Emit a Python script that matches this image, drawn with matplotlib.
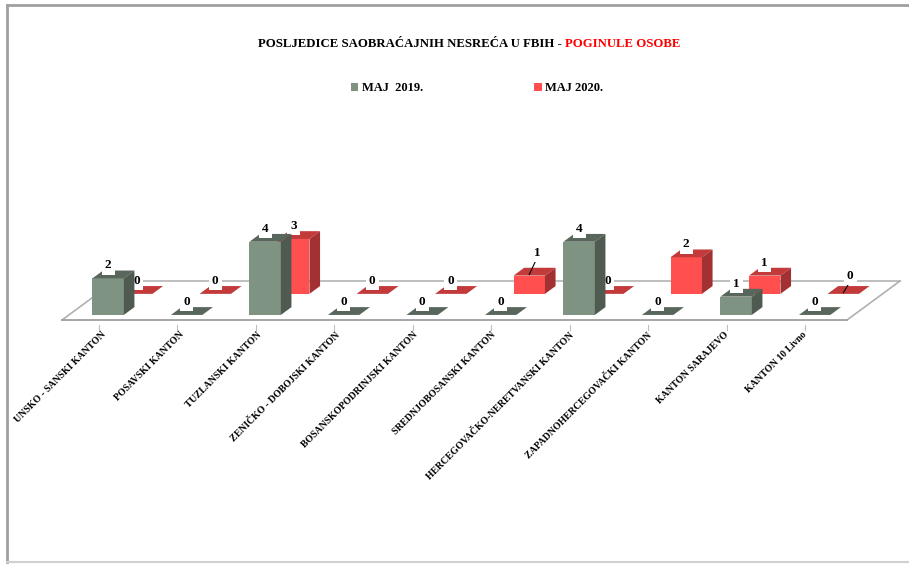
import matplotlib
matplotlib.use("Agg")
import matplotlib.pyplot as plt
from matplotlib.patches import Polygon, Patch
from matplotlib.lines import Line2D

# ---------------- data ----------------
categories = [
    "UNSKO - SANSKI KANTON",
    "POSAVSKI KANTON",
    "TUZLANSKI KANTON",
    "ZENIČKO - DOBOJSKI KANTON",
    "BOSANSKOPODRINJSKI KANTON",
    "SREDNJOBOSANSKI KANTON",
    "HERCEGOVAČKO-NERETVANSKI KANTON",
    "ZAPADNOHERCEGOVAČKI KANTON",
    "KANTON SARAJEVO",
    "KANTON 10 Livno",
]
series_names = ["MAJ  2019.", "MAJ 2020."]
values_2019 = [2, 0, 4, 0, 0, 0, 4, 0, 1, 0]
values_2020 = [0, 0, 3, 0, 0, 1, 0, 2, 1, 0]

title_black = "POSLJEDICE SAOBRAĆAJNIH NESREĆA U FBIH - "
title_red = "POGINULE OSOBE"

# ---------------- geometry (pixel mapping) ----------------
W, H = 909, 564
X0, Y0 = 62.0, 320.0       # pixel of front-left floor corner (value 0)
U = 78.5                   # px per category
V = 18.3                   # px per value unit
DX = 53.0 / U              # depth shift (full depth) in data units
DY = 39.0 / V
BW = 0.40                  # bar width (category units)

fig = plt.figure(figsize=(W / 100, H / 100), dpi=100)
ax = fig.add_axes([0, 0, 1, 1])
ax.set_xlim(-X0 / U, (W - X0) / U)
ax.set_ylim((Y0 - H) / V, Y0 / V)
ax.axis("off")

SERIF = "Liberation Serif"

colors = {
    0: dict(front="#7F9382", side="#4F5B51", top="#58665B"),
    1: dict(front="#FF4F4F", side="#A33131", top="#C23A3A"),
}
depths = {0: (0.13, 0.33), 1: (0.67, 0.87)}

# ---------------- floor ----------------
n = len(categories)
floor = Polygon([(0, 0), (n, 0), (n + DX, DY), (DX, DY)], closed=True,
                facecolor="white", edgecolor="none", zorder=1)
ax.add_patch(floor)
ax.plot([0, n], [0, 0], color="#A6A6A6", lw=1.4, zorder=2)
ax.plot([DX, n + DX], [DY, DY], color="#BFBFBF", lw=1.4, zorder=1.5)
ax.plot([0, DX], [0, DY], color="#B0B0B0", lw=1.2, zorder=1.5)
ax.plot([n, n + DX], [0, DY], color="#B0B0B0", lw=1.2, zorder=1.5)
# small tick marks under the front edge
for i in range(n):
    c = i + 0.5 - 0.03
    ax.plot([c, c], [-5 / V, -10 / V], color="#BFBFBF", lw=0.8, zorder=2)


def draw_series(k, vals):
    d0, d1 = depths[k]
    col = colors[k]
    zb = 3 + 3 * (1 - k)
    centers = [i + 0.5 + d0 * DX for i in range(n)]
    ax.bar(centers, vals, width=BW, bottom=d0 * DY, color=col["front"],
           edgecolor="none", zorder=zb)
    for i, v in enumerate(vals):
        xl = i + 0.5 - BW / 2
        xr = i + 0.5 + BW / 2
        top = [(xl + d0 * DX, v + d0 * DY), (xr + d0 * DX, v + d0 * DY),
               (xr + d1 * DX, v + d1 * DY), (xl + d1 * DX, v + d1 * DY)]
        ax.add_patch(Polygon(top, closed=True, facecolor=col["top"],
                             edgecolor="none", zorder=zb + 0.5))
        if v > 0:
            side = [(xr + d0 * DX, d0 * DY), (xr + d1 * DX, d1 * DY),
                    (xr + d1 * DX, v + d1 * DY), (xr + d0 * DX, v + d0 * DY)]
            ax.add_patch(Polygon(side, closed=True, facecolor=col["side"],
                                 edgecolor="none", zorder=zb + 0.5))


draw_series(1, values_2020)
draw_series(0, values_2019)

# ---------------- data labels ----------------
label_shift = {(1, 5): (8, -10), (1, 9): (7, -5)}   # px offsets with leader lines
for k, vals in ((1, values_2020), (0, values_2019)):
    d0, _ = depths[k]
    zb = 3 + 3 * (1 - k) + 1
    for i, v in enumerate(vals):
        cx = i + 0.5 + d0 * DX
        ty = v + d0 * DY
        lx, ly = cx, ty + 13 / V
        if (k, i) in label_shift:
            ox, oy = label_shift[(k, i)]
            lx, ly = cx + ox / U, ty + (13 - oy) / V
            ax.plot([cx, lx - 1 / U], [ty + 1 / V, ly - 7 / V], color="black",
                    lw=0.8, zorder=zb + 0.1)
        ax.text(lx, ly, str(v), ha="center", va="center", fontsize=9.5,
                fontweight="bold", family=SERIF, zorder=zb + 0.2,
                bbox=dict(boxstyle="square,pad=0.25", facecolor="white",
                          edgecolor="none"))

# ---------------- category labels ----------------
for i, name in enumerate(categories):
    ax.text(i + 0.5 - 0.6 * i / U, -10 / V, name, rotation=45,
            rotation_mode="anchor", ha="right", va="top", fontsize=7,
            fontweight="bold", family=SERIF, zorder=10)

# ---------------- title ----------------
tfs = 9.2
t1 = fig.text(258 / W, 1 - 44 / H, title_black, ha="left", va="center",
              fontsize=tfs, fontweight="bold", family=SERIF)
fig.canvas.draw()
bb = t1.get_window_extent()
fig.text(bb.x1 / W, 1 - 44 / H, title_red, ha="left", va="center",
         fontsize=tfs, fontweight="bold", family=SERIF, color="#FF0000")

# ---------------- legend ----------------
handles = [Patch(facecolor=colors[0]["front"], label=series_names[0]),
           Patch(facecolor="#FF5050", label=series_names[1])]
leg = fig.legend(handles=handles, loc="center", ncol=2,
                 bbox_to_anchor=(477 / W, 1 - 88 / H), frameon=False,
                 handlelength=0.6, handleheight=0.6, handletextpad=0.3,
                 columnspacing=8.9,
                 prop=dict(family=SERIF, weight="bold", size=9))

# ---------------- frame ----------------
fc = "#A0A0A0"
fig.add_artist(Line2D([7 / W, 7 / W], [1 - 5 / H, 1 - 562 / H], color=fc, lw=2,
                      transform=fig.transFigure))
fig.add_artist(Line2D([7 / W, 1.0], [1 - 5 / H, 1 - 5 / H], color=fc, lw=2,
                      transform=fig.transFigure))
fig.add_artist(Line2D([7 / W, 1.0], [1 - 562 / H, 1 - 562 / H], color="#D0D0D0",
                      lw=1.5, transform=fig.transFigure))

fig.savefig("out.png", dpi=100)
